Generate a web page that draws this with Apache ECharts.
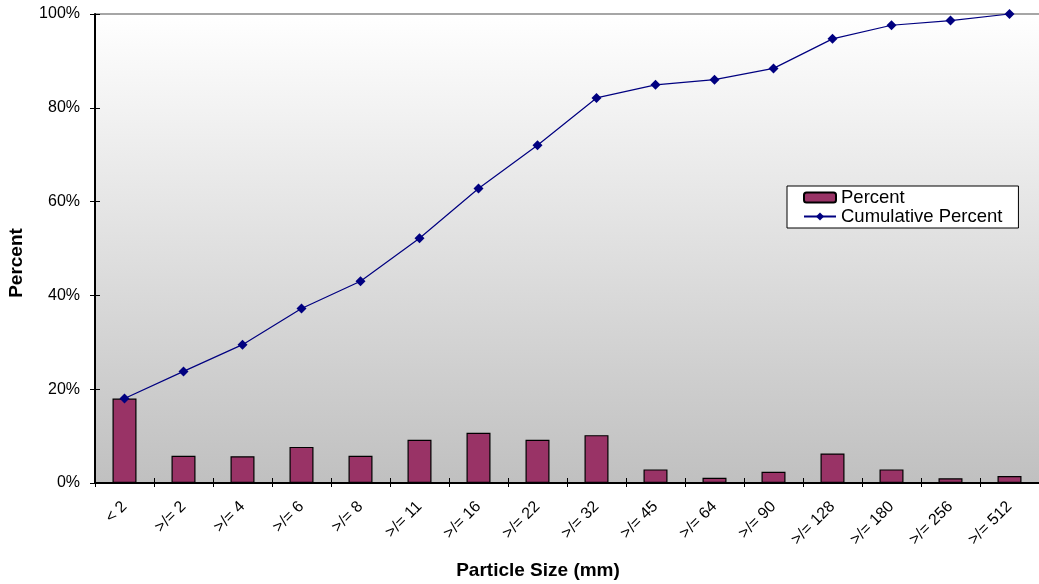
<!DOCTYPE html>
<html>
<head>
<meta charset="utf-8">
<script src="https://cdn.jsdelivr.net/npm/echarts@6/dist/echarts.min.js"></script>
<style>
  html, body { margin: 0; padding: 0; background: #ffffff; }
  #chart { width: 1039px; height: 584px; }
</style>
</head>
<body>
<div id="chart"></div>
<script>
// Particle size classes (mm)
const sizeClasses = ['< 2', '>/= 2', '>/= 4', '>/= 6', '>/= 8', '>/= 11', '>/= 16', '>/= 22',
  '>/= 32', '>/= 45', '>/= 64', '>/= 90', '>/= 128', '>/= 180', '>/= 256', '>/= 512'];
// Percent of particles in each class
const percentValues = [18.0, 5.8, 5.7, 7.7, 5.8, 9.2, 10.7, 9.2, 10.2, 2.9, 1.1, 2.4, 6.3, 2.9, 1.0, 1.5];
// Cumulative percent finer than each class
const cumulativeValues = [18.0, 23.8, 29.5, 37.2, 43.0, 52.2, 62.8, 72.0, 82.1, 84.9, 86.0, 88.4, 94.7, 97.6, 98.6, 100.0];
// Percent axis ticks
const percentTicks = [0, 20, 40, 60, 80, 100];

const chart = echarts.init(document.getElementById('chart'), null, { renderer: 'canvas' });
const font = 'Liberation Sans, Arial, sans-serif';

chart.setOption({
  animation: false,
  textStyle: { fontFamily: font },
  grid: {
    left: 95, top: 14, width: 953, height: 469,
    show: true,
    borderWidth: 0,
    backgroundColor: new echarts.graphic.LinearGradient(0, 0, 0, 1, [
      { offset: 0, color: '#ffffff' },
      { offset: 1, color: '#c0c0c0' }
    ])
  },
  legend: {
    orient: 'vertical',
    left: 787, top: 186,
    backgroundColor: '#ffffff',
    borderColor: '#000000',
    borderWidth: 1,
    padding: [2, 16, 2, 16],
    itemWidth: 32, itemHeight: 10,
    itemGap: 0,
    textStyle: { fontSize: 18.5, lineHeight: 18, color: '#000000', fontFamily: font },
    data: ['Percent', 'Cumulative Percent']
  },
  xAxis: [
    {
      type: 'category',
      data: sizeClasses,
      position: 'bottom',
      axisLine: { show: true, lineStyle: { color: '#000000', width: 2 } },
      axisTick: { show: true, inside: false, length: 4, lineStyle: { color: '#000000', width: 1 } },
      axisLabel: { rotate: 45, fontSize: 16, color: '#000000', margin: 21, fontFamily: font, interval: 0 },
      splitLine: { show: false }
    },
    {
      type: 'category',
      data: sizeClasses,
      position: 'bottom',
      axisLine: { show: false },
      axisTick: { show: true, inside: true, length: 5, lineStyle: { color: '#000000', width: 1 } },
      axisLabel: { show: false },
      splitLine: { show: false }
    }
  ],
  yAxis: [
    {
      type: 'value',
      min: 0, max: 100, interval: 20,
      position: 'left',
      axisLine: { show: true, lineStyle: { color: '#000000', width: 2 } },
      axisTick: { show: true, inside: false, length: 5, lineStyle: { color: '#000000', width: 1 } },
      axisLabel: {
        fontSize: 16, color: '#000000', margin: 15, fontFamily: font,
        formatter: v => percentTicks.includes(v) ? v + '%' : ''
      },
      splitLine: {
        show: true,
        lineStyle: {
          color: ['rgba(0,0,0,0)', 'rgba(0,0,0,0)', 'rgba(0,0,0,0)', 'rgba(0,0,0,0)', 'rgba(0,0,0,0)', '#a6a6a6'],
          width: 2
        }
      }
    },
    {
      type: 'value',
      min: 0, max: 100, interval: 20,
      position: 'left',
      axisLine: { show: false },
      axisTick: { show: true, inside: true, length: 5, lineStyle: { color: '#000000', width: 1 } },
      axisLabel: { show: false },
      splitLine: { show: false }
    }
  ],
  graphic: [
    {
      type: 'text',
      x: 538, y: 571,
      style: {
        text: 'Particle Size (mm)', font: 'bold 19px ' + font, fill: '#000000',
        align: 'center', verticalAlign: 'middle'
      }
    },
    {
      type: 'text',
      x: 17, y: 263,
      rotation: Math.PI / 2,
      style: {
        text: 'Percent', font: 'bold 19px ' + font, fill: '#000000',
        align: 'center', verticalAlign: 'middle'
      }
    }
  ],
  series: [
    {
      name: 'Percent',
      type: 'bar',
      xAxisIndex: 0, yAxisIndex: 0,
      data: percentValues,
      barWidth: 24,
      itemStyle: { color: '#993366', borderColor: '#000000', borderWidth: 1.2 },
      z: 2
    },
    {
      name: 'Cumulative Percent',
      type: 'line',
      xAxisIndex: 0, yAxisIndex: 0,
      data: cumulativeValues,
      symbol: 'diamond',
      symbolSize: 10,
      lineStyle: { color: '#000080', width: 1.2 },
      itemStyle: { color: '#000080' },
      z: 3
    }
  ]
});
</script>
</body>
</html>
